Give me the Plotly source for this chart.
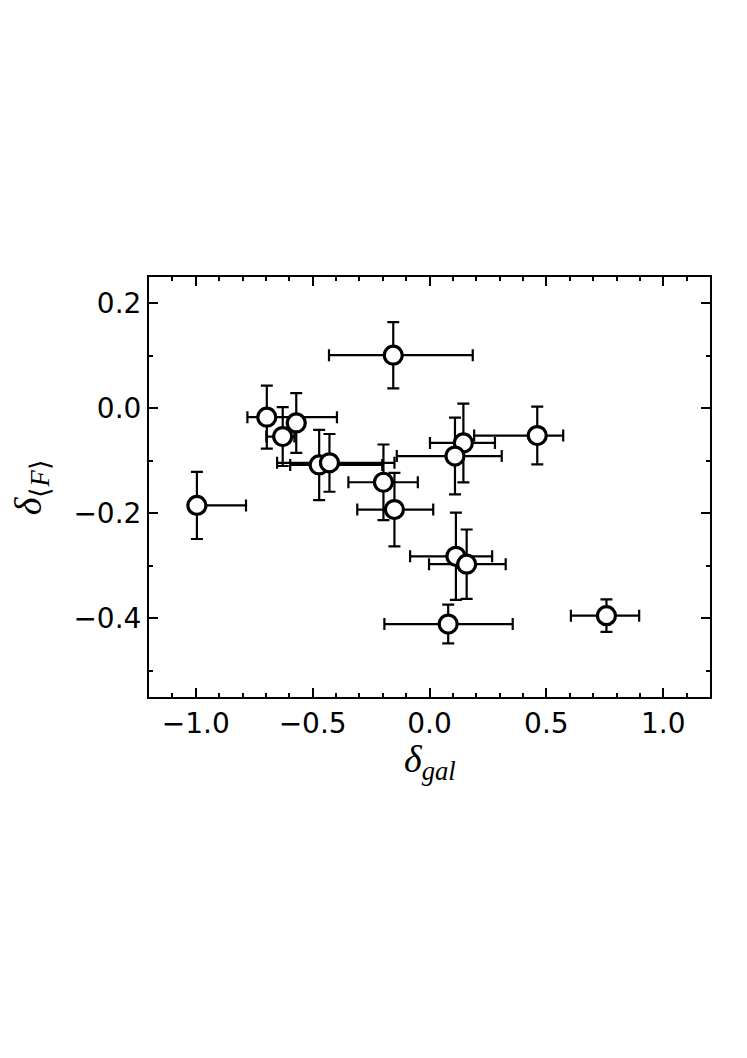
import plotly.graph_objects as go

# delta_gal vs delta_<F>
x_gal = [-0.995, -0.696, -0.570, -0.628, -0.472, -0.428, -0.155, -0.197,
         -0.150, 0.145, 0.109, 0.461, 0.113, 0.159, 0.080, 0.757]
y_flux = [-0.185, -0.017, -0.028, -0.054, -0.108, -0.104, 0.101, -0.141,
          -0.193, -0.066, -0.091, -0.052, -0.282, -0.297, -0.411, -0.395]
x_err_minus = [0.0, 0.083, 0.03, 0.07, 0.124, 0.224, 0.275, 0.150,
               0.159, 0.143, 0.249, 0.270, 0.196, 0.161, 0.273, 0.152]
x_err_plus = [0.21, 0.30, 0.03, 0.05, 0.270, 0.278, 0.340, 0.147,
              0.166, 0.135, 0.200, 0.111, 0.155, 0.167, 0.276, 0.140]
y_err = [0.064, 0.060, 0.057, 0.056, 0.067, 0.055, 0.063, 0.072,
         0.070, 0.075, 0.073, 0.055, 0.083, 0.066, 0.037, 0.031]

x_ticks = [-1.0, -0.5, 0.0, 0.5, 1.0]
y_ticks = [0.2, 0.0, -0.2, -0.4]

fig = go.Figure()
fig.add_trace(go.Scatter(
    x=x_gal,
    y=y_flux,
    mode="markers",
    marker=dict(size=18, color="white", line=dict(color="black", width=3.2)),
    error_x=dict(type="data", symmetric=False, array=x_err_plus,
                 arrayminus=x_err_minus, color="black", thickness=2.2, width=6),
    error_y=dict(type="data", array=y_err, color="black", thickness=2.2, width=6),
    showlegend=False,
))

axis_common = dict(
    showline=True, linecolor="black", linewidth=2, mirror="allticks",
    ticks="inside", ticklen=9, tickwidth=1.5, tickcolor="black",
    showgrid=False, zeroline=False, tickformat=".1f",
    tickfont=dict(family="DejaVu Sans", size=28, color="black"),
    ticklabelstandoff=0,
)
minor_ticks = dict(dtick=0.1, ticks="inside", ticklen=4, tickcolor="black", tickwidth=1.5)

fig.update_xaxes(range=[-1.2, 1.2], tickvals=x_ticks, minor=minor_ticks, **axis_common)
fig.update_yaxes(range=[-0.55, 0.25], tickvals=y_ticks, minor=minor_ticks, **axis_common)

fig.add_annotation(
    text="<i>δ</i><sub><i>gal</i></sub>", xref="paper", yref="paper",
    x=0.5, y=-0.155, showarrow=False, yanchor="middle",
    font=dict(family="Liberation Serif", size=38, color="black"),
)
fig.add_annotation(
    text="<i>δ</i><sub>⟨<i>F</i>⟩</sub>", xref="paper", yref="paper",
    x=-0.21, y=0.5, showarrow=False, textangle=-90, xanchor="center",
    font=dict(family="Liberation Serif", size=38, color="black"),
)

fig.update_layout(
    width=747, height=1058,
    margin=dict(l=141, r=45, t=269, b=369),
    plot_bgcolor="white", paper_bgcolor="white",
)

fig.write_html("out.html")
